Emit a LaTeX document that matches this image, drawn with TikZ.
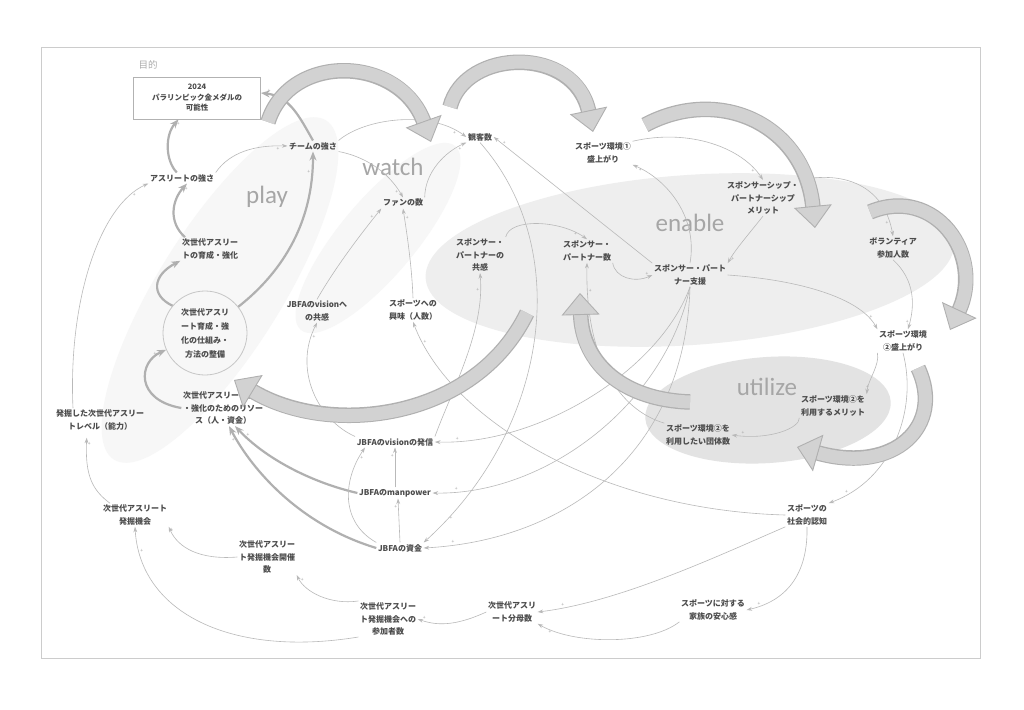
\documentclass[tikz,border=0pt]{standalone}
\usepackage{fontspec}
\setmainfont{Noto Sans CJK JP}
\newfontfamily\lblfont{Carlito}
\usetikzlibrary{arrows.meta}
\tikzset{
  v/.style={align=center, font=\fontsize{8}{12.5}\selectfont\bfseries, text=black!70, inner sep=1.5pt},
  big/.style={font=\lblfont\fontsize{25}{25}\selectfont, text=gray!70, inner sep=0pt},
  conn/.style={draw=gray!55, line width=0.6pt, -{Stealth[length=5.5pt,width=3.8pt]}},
  pconn/.style={draw=gray!62, line width=2.2pt, -{Stealth[length=9pt,width=7pt]}},
  sg/.style={font=\fontsize{5}{5}\selectfont, text=gray!70, inner sep=1pt, above},
  bigout/.style={draw=gray!62, line width=15.5pt, shorten >=20pt},
  bigin/.style={draw=gray!35, line width=13pt, -{Triangle[length=22pt,width=38pt,line width=0.9pt,fill=gray!35,color=gray!62]}},
}
\newcommand\bigarr[1]{\draw[bigout] #1; \draw[bigin] #1;}
\begin{document}
\begin{tikzpicture}[x=1pt,y=-1pt]
\useasboundingbox (0,0) rectangle (1024,709);
\fill[white] (0,0) rectangle (1024,709);
\draw[gray!40, line width=1pt] (41,48) rectangle (980,658);
% background regions
\fill[gray!6, rotate around={58:(220,290)}] (220,290) ellipse [x radius=200, y radius=62];
\fill[gray!6, rotate around={50:(378,238)}] (378,238) ellipse [x radius=120, y radius=38];
\fill[gray!13, rotate around={4:(690,260)}] (690,260) ellipse [x radius=265, y radius=85];
\fill[gray!22, rotate around={4:(768,410)}] (768,410) ellipse [x radius=123, y radius=53];
% big labels
\node[big] (lplay) at (267,197) {play};
\node[big] (lwatch) at (393,167) {watch};
\node[big] (lenable) at (690,223) {enable};
\node[big] (lutil) at (767,387) {utilize};
% nodes
\node[v, text=gray!65, font=\fontsize{9.5}{10}\selectfont] (mok) at (148,65) {目的};
\node[v, draw=gray!60, line width=0.8pt, minimum width=127pt, minimum height=42pt, font=\fontsize{7.5}{10.5}\selectfont\bfseries] (goal) at (197,98) {2024\\パラリンピック金メダルの\\可能性};
\node[v] (team) at (313,146) {チームの強さ};
\node[v] (athl) at (182,178) {アスリートの強さ};
\node[v] (ikusei) at (210,249) {次世代アスリー\\トの育成・強化};
\node[v, circle, draw=gray!45, line width=0.8pt, minimum size=84pt, inner sep=0pt, font=\fontsize{8}{14}\selectfont\bfseries] (circ) at (205,333) {次世代アスリ\\ート育成・強\\化の仕組み・\\方法の整備};
\node[v] (res) at (223,408) {次世代アスリート育成\\・強化のためのリソー\\ス（人・資金）};
\node[v] (level) at (100,420) {発掘した次世代アスリー\\トレベル（能力）};
\node[v] (kikai) at (135,515) {次世代アスリート\\発掘機会};
\node[v] (kaisai) at (267,557) {次世代アスリー\\ト発掘機会開催\\数};
\node[v] (sanka) at (388,619) {次世代アスリー\\ト発掘機会への\\参加者数};
\node[v] (bunbo) at (512,612) {次世代アスリ\\ート分母数};
\node[v] (anshin) at (713,610) {スポーツに対する\\家族の安心感};
\node[v] (ninchi) at (807,515) {スポーツの\\社会的認知};
\node[v] (dantai) at (698,435) {スポーツ環境②を\\利用したい団体数};
\node[v] (merit2) at (833,406) {スポーツ環境②を\\利用するメリット};
\node[v] (env2) at (903,341) {スポーツ環境\\②盛上がり};
\node[v] (vol) at (893,248) {ボランティア\\参加人数};
\node[v] (spmerit) at (763,198) {スポンサーシップ・\\パートナーシップ\\メリット};
\node[v] (env1) at (603,153) {スポーツ環境①\\盛上がり};
\node[v] (kank) at (480,137) {観客数};
\node[v] (fan) at (403,203) {ファンの数};
\node[v] (vky) at (317,311) {JBFAのvisionへ\\の共感};
\node[v] (kyomi) at (413,310) {スポーツへの\\興味（人数）};
\node[v] (spky) at (480,255) {スポンサー・\\パートナーの\\共感};
\node[v] (spnum) at (587,251) {スポンサー・\\パートナー数};
\node[v] (shien) at (690,275) {スポンサー・パート\\ナー支援};
\node[v] (hass) at (395,442) {JBFAのvisionの発信};
\node[v] (manp) at (395,493) {JBFAのmanpower};
\node[v] (shik) at (400,548) {JBFAの資金};
% play loop connectors
\draw[pconn] (athl) .. controls (165,160) and (165,135) .. (goal) node[sg,pos=0.9,right]{+};
\draw[pconn] ([xshift=-25pt]ikusei.north) .. controls (168,222) and (172,200) .. ([xshift=5pt]athl.south) node[sg,pos=0.9,right]{+};
\draw[pconn] (circ.140) .. controls (150,295) and (153,275) .. (ikusei.south west) node[sg,pos=0.9,right]{+};
\draw[pconn] (res.west) .. controls (135,400) and (138,362) .. (circ) node[sg,pos=0.9,left]{+};
\draw[pconn] (circ) .. controls (285,270) and (313,220) .. (team) node[sg,pos=0.9,left]{+};
\draw[pconn] (team.north) .. controls (300,118) and (290,96) .. ([yshift=5pt]goal.east) node[sg,pos=0.9,above]{+};
\draw[pconn] (manp.west) .. controls (310,482) and (265,458) .. ([xshift=12pt]res.south) node[sg,pos=0.9,right]{+};
\draw[pconn] (shik.west) .. controls (300,525) and (252,470) .. ([xshift=6pt]res.south) node[sg,pos=0.9,left]{+};
% thin connectors
\draw[conn] ([xshift=-27pt]level.north) .. controls (68,300) and (100,205) .. (athl.south west) node[sg,pos=0.9,below]{+};
\draw[conn] (athl.north east) .. controls (230,152) and (255,145) .. (team.west) node[sg,pos=0.9,below]{+};
\draw[conn] (team.north east) .. controls (365,118) and (430,110) .. (kank.west) node[sg,pos=0.9,below]{+};
\draw[conn] (team.south east) .. controls (372,158) and (392,178) .. (fan.north) node[sg,pos=0.9,left]{+};
\draw[conn] (fan.north east) .. controls (425,172) and (445,152) .. (kank.south west) node[sg,pos=0.9,below]{+};
\draw[conn] (kyomi.north) .. controls (412,270) and (408,240) .. (fan.south) node[sg,pos=0.9,right]{+};
\draw[conn] (vky.north) .. controls (335,268) and (360,235) .. (fan.south west) node[sg,pos=0.9,left]{+};
\draw[conn] (hass.north west) .. controls (318,420) and (293,370) .. (vky.south) node[sg,pos=0.9,right]{+};
\draw[conn] (hass.north east) .. controls (452,390) and (485,330) .. (spky.south) node[sg,pos=0.9,left]{+};
\draw[conn] (spky.north east) .. controls (510,218) and (560,220) .. (spnum.north) node[sg,pos=0.9,left]{+};
\draw[conn] (spnum.south east) .. controls (615,278) and (635,283) .. (shien.west) node[sg,pos=0.9,above]{+};
\draw[conn] (shien.north west) -- (kank.east) node[sg,pos=0.95,right]{+};
\draw[conn] (shien.north) .. controls (698,218) and (668,180) .. (env1.south east) node[sg,pos=0.9,left]{+};
\draw[conn] (spmerit.south) .. controls (748,235) and (735,250) .. (shien.north east) node[sg,pos=0.9,right]{+};
\draw[conn] (env1.north east) .. controls (690,128) and (742,148) .. (spmerit.north) node[sg,pos=0.9,left]{+};
\draw[conn] (spmerit.north east) .. controls (850,170) and (885,190) .. (vol.north) node[sg,pos=0.9,left]{+};
\draw[conn] (vol.south) .. controls (915,280) and (915,305) .. ([xshift=5pt]env2.north) node[sg,pos=0.9,left]{+};
\draw[conn] (shien.east) .. controls (800,280) and (860,298) .. (env2.north west) node[sg,pos=0.9,above]{+};
\draw[conn] (env2.south west) .. controls (880,365) and (868,380) .. (merit2.north east) node[sg,pos=0.9,above]{+};
\draw[conn] (merit2.south west) .. controls (800,428) and (770,440) .. (dantai.east) node[sg,pos=0.9,above]{+};
\draw[conn] (env2.south) .. controls (918,410) and (892,480) .. (ninchi.north east) node[sg,pos=0.9,above]{+};
\draw[conn] (ninchi.south) .. controls (808,570) and (790,600) .. (anshin.east) node[sg,pos=0.9,above]{+};
\draw[conn] (ninchi.south west) .. controls (720,555) and (620,602) .. (bunbo.east) node[sg,pos=0.9,above]{+};
\draw[conn] (anshin.south west) .. controls (650,645) and (575,645) .. (bunbo.south east) node[sg,pos=0.9,below]{+};
\draw[conn] (ninchi.west) .. controls (600,510) and (450,420) .. (kyomi.south) node[sg,pos=0.93,right]{+};
\draw[conn] (kank.south) .. controls (575,250) and (548,430) .. (shik.north east) node[sg,pos=0.93,right]{+};
\draw[conn] (shien.south) .. controls (660,370) and (540,445) .. (hass.east) node[sg,pos=0.93,above]{+};
\draw[conn] (shien.south) .. controls (665,405) and (545,495) .. (manp.east) node[sg,pos=0.93,above]{+};
\draw[conn] (shien.south) .. controls (685,455) and (565,540) .. (shik.east) node[sg,pos=0.93,above]{+};
\draw[conn] (dantai.north west) .. controls (620,410) and (585,360) .. (spnum.south) node[sg,pos=0.9,right]{+};
\draw[conn] (bunbo.west) .. controls (460,624) and (440,627) .. (sanka.east) node[sg,pos=0.9,above]{+};
\draw[conn] (sanka.north west) .. controls (330,605) and (305,592) .. (kaisai.south east) node[sg,pos=0.9,right]{+};
\draw[conn] (sanka.south west) .. controls (230,658) and (140,612) .. (kikai.south) node[sg,pos=0.9,right]{+};
\draw[conn] (kaisai.west) .. controls (200,560) and (178,548) .. (kikai.south east) node[sg,pos=0.9,above]{+};
\draw[conn, shorten >=6pt] ([xshift=-25pt]kikai.north) .. controls (92,490) and (85,475) .. ([xshift=-13pt]level.south) node[sg,pos=0.9,right]{+};
\draw[conn] (manp.north) -- (hass.south) node[sg,pos=0.8,left]{+};
\draw[conn] (shik.north) -- ([xshift=3pt]manp.south) node[sg,pos=0.8,left]{+};
\draw[conn] (shik.north west) .. controls (340,522) and (343,480) .. ([xshift=-30pt]hass.south) node[sg,pos=0.9,right]{+};
% broad loop arrows
\bigarr{(268,122) .. controls (290,52) and (400,55) .. (431,142)}
\bigarr{(450,107) .. controls (465,48) and (575,45) .. (593,132)}
\bigarr{(645,125) .. controls (720,85) and (805,125) .. (815,228)}
\bigarr{(870,212) .. controls (935,185) and (985,255) .. (950,330)}
\bigarr{(918,368) .. controls (945,425) and (895,475) .. (797,447)}
\bigarr{(690,402) .. controls (625,400) and (582,365) .. (580,293)}
\bigarr{(527,313) .. controls (475,420) and (330,438) .. (234,380)}
\end{tikzpicture}
\end{document}
